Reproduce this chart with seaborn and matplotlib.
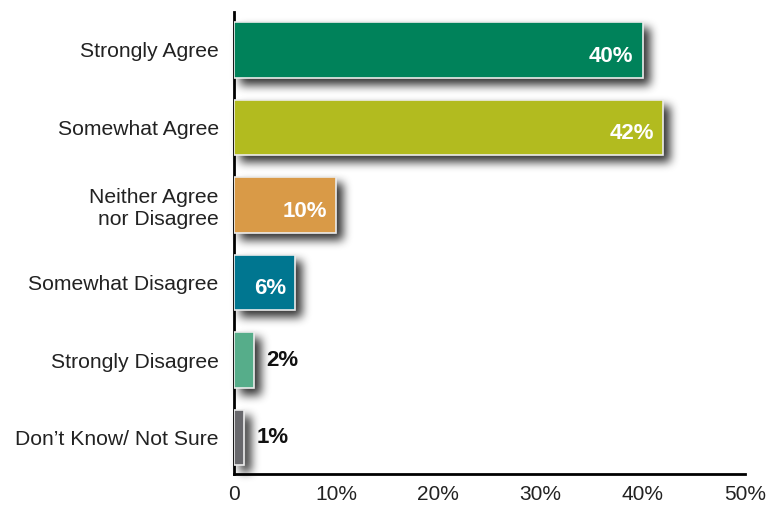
import numpy as np
import pandas as pd
import matplotlib
matplotlib.use("Agg")
import matplotlib.pyplot as plt
import seaborn as sns

categories = ["Strongly Agree", "Somewhat Agree", "Neither Agree\nnor Disagree",
              "Somewhat Disagree", "Strongly Disagree", "Don\u2019t Know/ Not Sure"]
values = [40, 42, 10, 6, 2, 1]
colors = ["#00825A", "#B2BB1F", "#D99A47", "#007690", "#56AD8A", "#68686C"]
xticks = [0, 10, 20, 30, 40, 50]
xtick_labels = ["0", "10%", "20%", "30%", "40%", "50%"]

sns.set_theme(style="white")
plt.rcParams["font.family"] = ["Liberation Sans", "DejaVu Sans"]

df = pd.DataFrame({"category": categories, "value": values})

fig = plt.figure(figsize=(7.7, 5.08), dpi=100)
ax = fig.add_axes([234 / 770, 1 - 474 / 508, 511 / 770, 462 / 508])


def box_blur(img, r):
    out = img.astype(float)
    for axis in (0, 1):
        pad = [(0, 0)] * out.ndim
        pad[axis] = (r, r)
        p = np.pad(out, pad, mode="constant")
        c = np.cumsum(p, axis=axis)
        c = np.concatenate([np.zeros_like(np.take(c, [0], axis=axis)), c], axis=axis)
        n = out.shape[axis]
        out = (np.take(c, np.arange(2 * r + 1, 2 * r + 1 + n), axis=axis)
               - np.take(c, np.arange(0, n), axis=axis)) / (2 * r + 1)
    return out


def soft_shadow(image, dpi):
    pad = 24
    h, w, _ = image.shape
    img = np.zeros((h + 2 * pad, w + 2 * pad, 4))
    img[pad:pad + h, pad:pad + w] = image
    alpha = img[..., 3]
    for _ in range(3):
        alpha = box_blur(alpha, 4)
    res = np.zeros_like(img)
    res[..., 3] = np.clip(alpha * 0.8, 0, 1)
    # shift down-right
    dx, dy = 6, 6
    shifted = np.zeros_like(res)
    shifted[dy:, dx:] = res[:-dy, :-dx]
    return shifted, -pad, -pad


# blurred drop shadows behind the bars
sns.barplot(data=df, y="category", x="value", orient="h", color="black",
            width=0.72, ax=ax, zorder=1, saturation=1)
for p in ax.patches:
    p.set_agg_filter(soft_shadow)
    p.set_rasterized(True)
n_shadow = len(ax.patches)

sns.barplot(data=df, y="category", x="value", hue="category", palette=colors,
            orient="h", width=0.72, legend=False, ax=ax, zorder=3, saturation=1,
            edgecolor="#ececec", linewidth=1.2)

for p, v in zip(ax.patches[n_shadow:], values):
    yc = p.get_y() + p.get_height() / 2
    if v >= 5:
        ax.text(v - 0.9, yc + 0.08, f"{v}%", ha="right", va="center", color="white",
                fontsize=16, fontweight="bold", zorder=5)
    else:
        ax.text(v + 1.2, yc, f"{v}%", ha="left", va="center", color="#111111",
                fontsize=16, fontweight="bold", zorder=5)

ax.set_xlim(0, 50)
ax.set_ylim(5.47, -0.49)
ax.set_xticks(xticks)
ax.set_xticklabels(xtick_labels, fontsize=15, color="#222222")
ax.set_yticks(range(len(categories)))
ax.set_yticklabels(categories, fontsize=15.2, color="#222222", ha="right",
                   multialignment="right")
ax.set_xlabel("")
ax.set_ylabel("")

for s in ["top", "right"]:
    ax.spines[s].set_visible(False)
for s in ["left", "bottom"]:
    ax.spines[s].set_color("black")
    ax.spines[s].set_linewidth(2)
ax.tick_params(axis="x", direction="in", length=10, width=2, color="black", pad=8)
ax.tick_params(axis="y", length=0, pad=11)
ax.grid(False)

fig.savefig("out.png", dpi=100)
